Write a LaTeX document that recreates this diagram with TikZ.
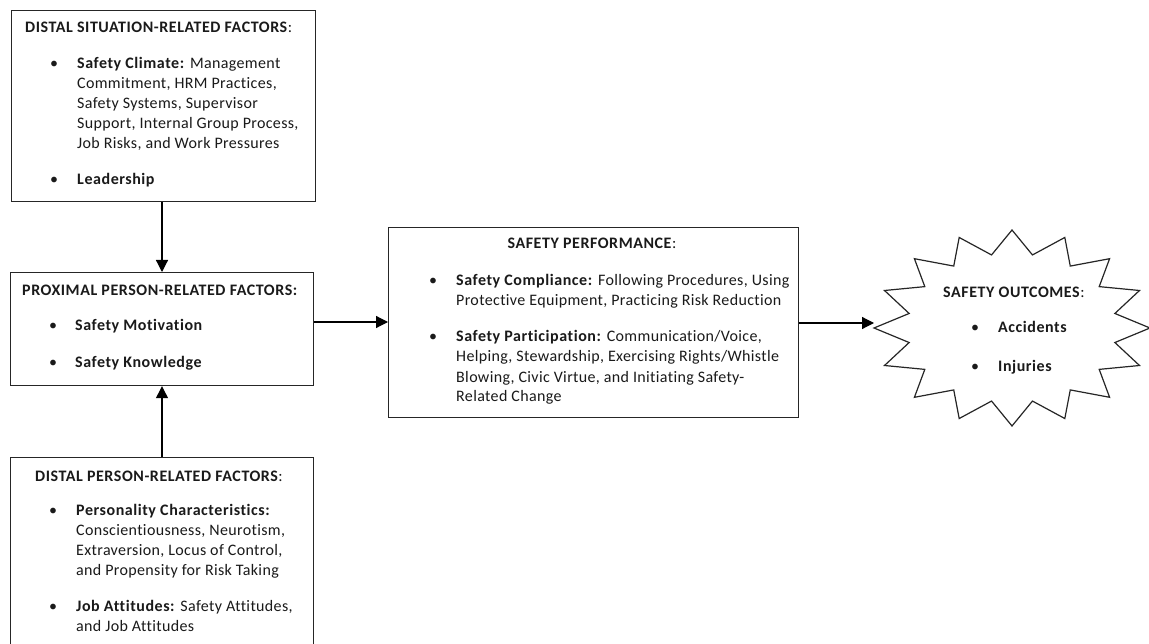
\documentclass[tikz,border=0pt]{standalone}
\usepackage{fontspec}
\setmainfont{Carlito}[Ligatures={NoCommon}, LetterSpace=2.2, BoldFeatures={LetterSpace=3.5}]
\usetikzlibrary{arrows.meta,calc}
\definecolor{ink}{HTML}{1A1A1A}
\begin{document}
\begin{tikzpicture}[x=1pt,y=-1pt,
  box/.style={draw=black!85, line width=1.2pt, rectangle, inner sep=0pt, anchor=north west},
  txt/.style={inner sep=0pt, anchor=base west, align=left, text=ink, font=\fontsize{16}{20}\selectfont},
  ttl/.style={txt},
  dot/.style={inner sep=0pt, anchor=base, text=ink, font=\fontsize{16}{20}\selectfont},
  arr/.style={line width=1.2pt, draw=black, -{Triangle[length=12pt,width=12pt]}},
  outline/.style={draw=black!85, line width=1.2pt, line join=miter}]
\useasboundingbox (0,0) rectangle (1149,644);
\fill[white] (0,0) rectangle (1149,644);
\clip (0,0) rectangle (1149,644);

% distal situation-related factors (multi-line texts are placed by their last baseline)
\node[box, minimum width=304pt, minimum height=191pt] (sit) at (11,10) {};
\node[ttl] (sitT) at (25,33) {\textbf{DISTAL SITUATION-RELATED FACTORS}:};
\node[dot] (sitB1) at (54,69) {•};
\node[txt] (sitI1) at (77,149) {\textbf{Safety Climate:} Management\\Commitment, HRM Practices,\\Safety Systems, Supervisor\\Support, Internal Group Process,\\Job Risks, and Work Pressures};
\node[dot] (sitB2) at (54,185) {•};
\node[txt] (sitI2) at (77,185) {\textbf{Leadership}};

% proximal person-related factors
\node[box, minimum width=303pt, minimum height=113pt] (prox) at (10,272) {};
\node[ttl] (proxT) at (22,296) {\textbf{PROXIMAL PERSON-RELATED FACTORS:}};
\node[dot] (proxB1) at (53,331) {•};
\node[txt] (proxI1) at (75,331) {\textbf{Safety Motivation}};
\node[dot] (proxB2) at (53,367) {•};
\node[txt] (proxI2) at (75,367) {\textbf{Safety Knowledge}};

% distal person-related factors
\node[box, minimum width=303pt, minimum height=200pt] (pers) at (10,457) {};
\node[ttl] (persT) at (35,481) {\textbf{DISTAL PERSON-RELATED FACTORS}:};
\node[dot] (persB1) at (53,515) {•};
\node[txt] (persI1) at (76,575) {\textbf{Personality Characteristics:}\\Conscientiousness, Neurotism,\\Extraversion, Locus of Control,\\and Propensity for Risk Taking};
\node[dot] (persB2) at (53,611) {•};
\node[txt] (persI2) at (76,631) {\textbf{Job Attitudes:} Safety Attitudes,\\and Job Attitudes};

% safety performance
\node[box, minimum width=410pt, minimum height=190pt] (perf) at (388,227) {};
\node[ttl, anchor=base] (perfT) at (592,249) {\textbf{SAFETY PERFORMANCE}:};
\node[dot] (perfB1) at (433,286) {•};
\node[txt] (perfI1) at (456,306) {\textbf{Safety Compliance:} Following Procedures, Using\\Protective Equipment, Practicing Risk Reduction};
\node[dot] (perfB2) at (433,342) {•};
\node[txt] (perfI2) at (456,402) {\textbf{Safety Participation:} Communication/Voice,\\Helping, Stewardship, Exercising Rights/Whistle\\Blowing, Civic Virtue, and Initiating Safety-\\Related Change};

% safety outcomes: sixteen-point star
\draw[outline] (1012,230)
  \foreach \k in {1,...,31} {
    -- ({1012+138*(1-0.24*mod(\k,2))*cos(90+11.25*\k)}, {328-98*(1-0.24*mod(\k,2))*sin(90+11.25*\k)})
  } -- cycle;
\coordinate (starW) at (874,328);
\node[ttl] (outT) at (943,298) {\textbf{SAFETY OUTCOMES}:};
\node[dot] (outB1) at (975,333) {•};
\node[txt] (outI1) at (998,333) {\textbf{Accidents}};
\node[dot] (outB2) at (975,372) {•};
\node[txt] (outI2) at (998,372) {\textbf{Injuries}};

% connectors
\draw[arr] (sit.south -| 162,0) -- (prox.north -| 162,0);
\draw[arr] (pers.north -| 162,0) -- (prox.south -| 162,0);
\draw[arr] (prox.east |- 0,322) -- (perf.west |- 0,322);
\draw[arr] (perf.east |- 0,323) -- (starW |- 0,323);
\end{tikzpicture}
\end{document}
